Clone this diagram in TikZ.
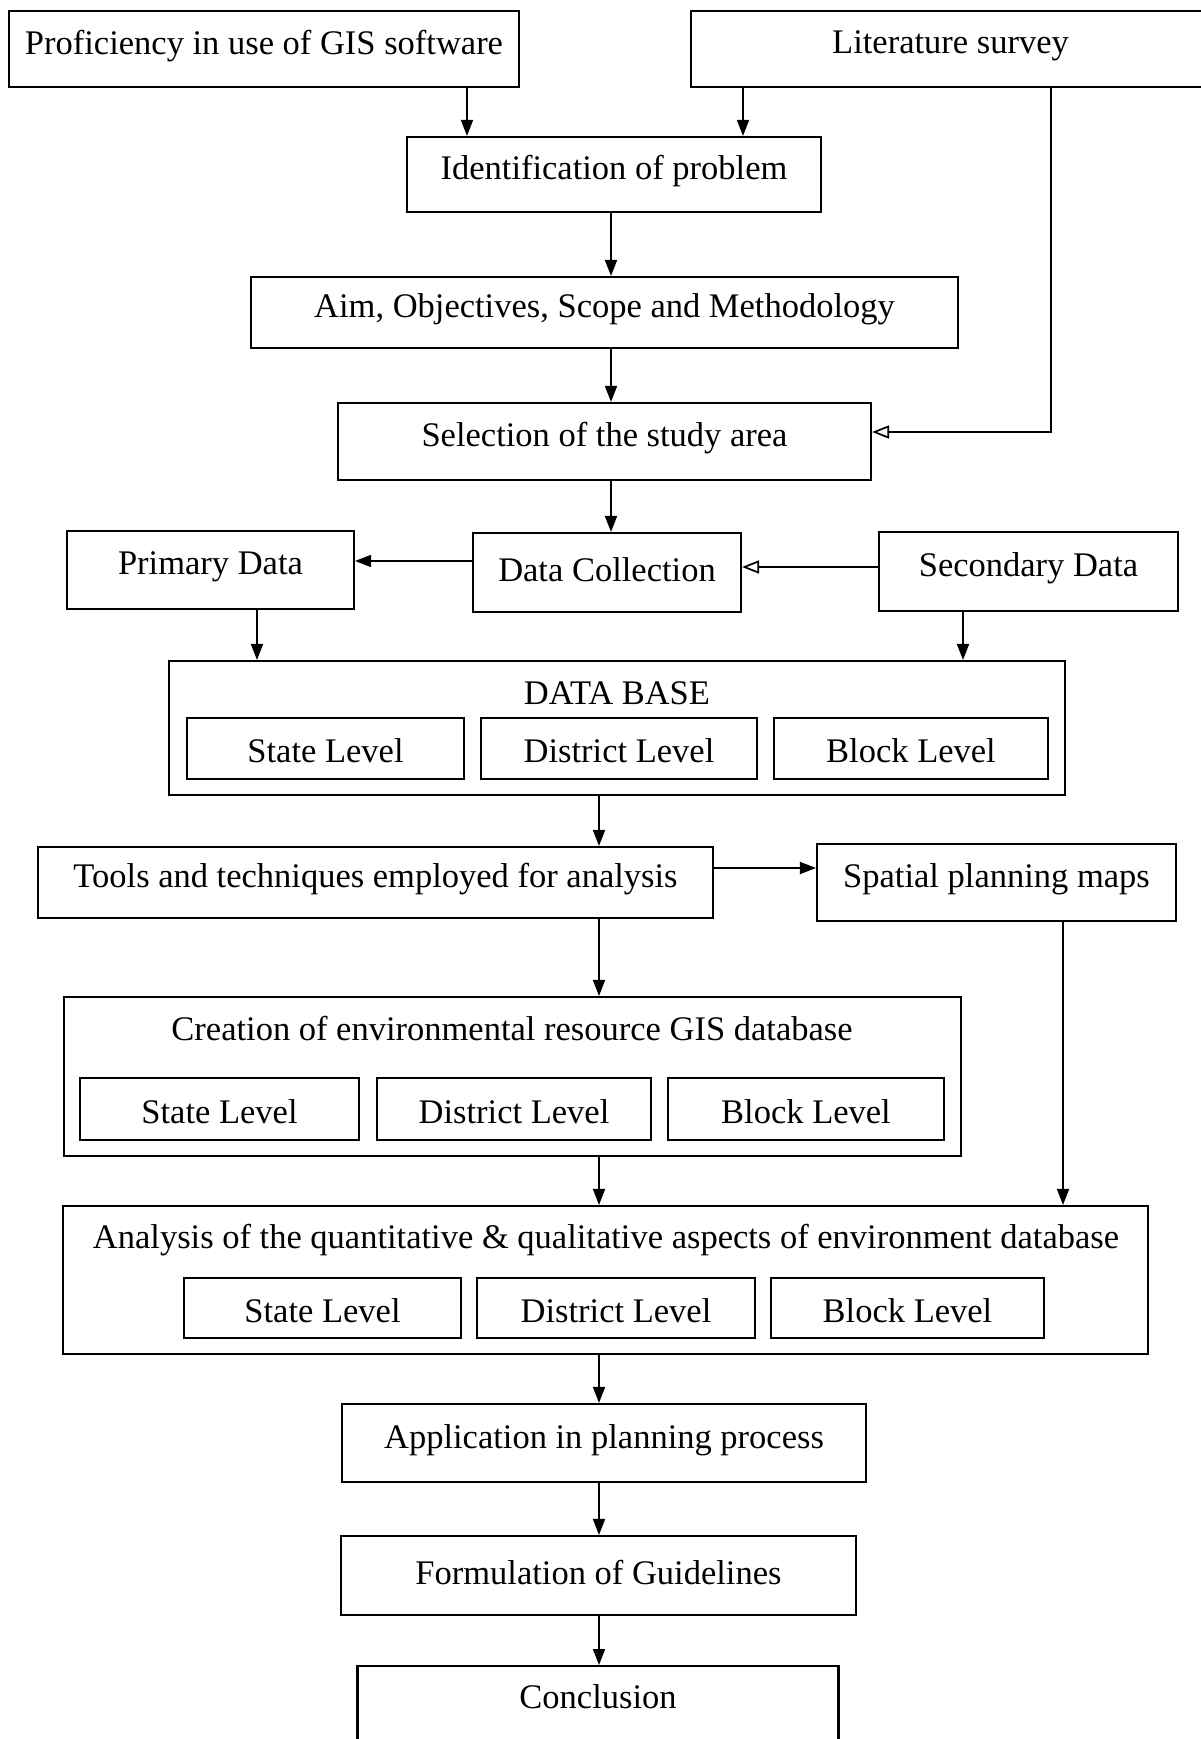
\documentclass[tikz,border=0pt]{standalone}
\usepackage{fontspec}
\setmainfont{Liberation Serif}
\usetikzlibrary{arrows.meta,calc}
\tikzset{
  box/.style={draw, line width=2.1pt, inner sep=0pt, anchor=center,
    font=\fontsize{34.5}{40}\selectfont},
  ttl/.style={inner sep=0pt, anchor=center, font=\fontsize{34.5}{40}\selectfont},
  arr/.style={line width=1.7pt, -{Triangle[length=16pt,width=12pt]}},
  oarr/.style={line width=1.7pt, -{Triangle[open,length=17pt,width=13pt,line width=1.7pt]}}
}
% box by its left, top, right and bottom edges; the label sits a little high
\newcommand{\bx}[6]{\node[box, minimum width={#4-#2}, minimum height={#5-#3}]
  (#1) at ({(#2+#4)/2},{(#3+#5)/2}) {\raisebox{3pt}[\height][\depth]{#6}};}
% level box inside a group; its label sits a little low
\newcommand{\lvl}[6]{\node[box, minimum width={#4-#2}, minimum height={#5-#3}]
  (#1) at ({(#2+#4)/2},{(#3+#5)/2}) {\raisebox{-2.5pt}[\height][\depth]{#6}};}
\begin{document}
\begin{tikzpicture}[x=1pt,y=-1pt]
\useasboundingbox (0,0) rectangle (1201,1739);
\fill[white] (0,0) rectangle (1201,1739);
\clip (0,0) rectangle (1201,1739);

% top row
\bx{prof}{9}{11}{519}{87}{Proficiency in use of GIS software}
\bx{lit}{691}{11}{1210}{87}{Literature survey}
% main chain
\bx{ident}{407}{137}{821}{212}{Identification of problem}
\bx{aim}{251}{277}{958}{348}{Aim, Objectives, Scope and Methodology}
\bx{sel}{338}{403}{871}{480}{Selection of the study area}
% data sources
\bx{prim}{67}{531}{354}{609}{Primary Data}
\bx{dc}{473}{533}{741}{612}{Data Collection}
\bx{sec}{879}{532}{1178}{611}{Secondary Data}
% data base group
\bx{db}{169}{661}{1065}{795}{}
\node[ttl] (dbt) at (617,693) {DATA BASE};
\lvl{dbs}{187}{718}{464}{779}{State Level}
\lvl{dbd}{481}{718}{757}{779}{District Level}
\lvl{dbb}{774}{718}{1048}{779}{Block Level}
% analysis tools
\bx{tools}{38}{847}{713}{918}{Tools and techniques employed for analysis}
\bx{spat}{817}{844}{1176}{921}{Spatial planning maps}
% GIS database group
\bx{cre}{64}{997}{961}{1156}{}
\node[ttl] (cret) at (512,1029) {Creation of environmental resource GIS database};
\lvl{cres}{80}{1078}{359}{1140}{State Level}
\lvl{cred}{377}{1078}{651}{1140}{District Level}
\lvl{creb}{668}{1078}{944}{1140}{Block Level}
% analysis group
\bx{ana}{63}{1206}{1148}{1354}{}
\node[ttl] (anat) at (606,1240) {Analysis of the quantitative \& qualitative aspects of environment database};
\lvl{anas}{184}{1278}{461}{1338}{State Level}
\lvl{anad}{477}{1278}{755}{1338}{District Level}
\lvl{anab}{771}{1278}{1044}{1338}{Block Level}
% final steps
\bx{app}{342}{1404}{866}{1482}{Application in planning process}
\bx{form}{341}{1536}{856}{1615}{Formulation of Guidelines}
\node[box, minimum width=481, minimum height=130, anchor=north]
  (conc) at (598,1665) {};
\node[ttl] (conct) at (598,1697) {Conclusion};

% connector lanes
\coordinate (xa) at (467,0);
\coordinate (xb) at (743,0);
\coordinate (xc) at (1051,0);
\coordinate (xm) at (611,0);
\coordinate (xp) at (257,0);
\coordinate (xs) at (963,0);
\coordinate (xd) at (599,0);
\coordinate (xr) at (1063,0);
\coordinate (ya) at (0,432);
\coordinate (yb) at (0,561);
\coordinate (yc) at (0,567);
\coordinate (yd) at (0,868);

\draw[arr] (prof.south -| xa) -- (ident.north -| xa);
\draw[arr] (lit.south -| xb) -- (ident.north -| xb);
\draw[oarr] (lit.south -| xc) |- (sel.east |- ya);
\draw[arr] (ident.south -| xm) -- (aim.north -| xm);
\draw[arr] (aim.south -| xm) -- (sel.north -| xm);
\draw[arr] (sel.south -| xm) -- (dc.north -| xm);
\draw[arr] (dc.west |- yb) -- (prim.east |- yb);
\draw[oarr] (sec.west |- yc) -- (dc.east |- yc);
\draw[arr] (prim.south -| xp) -- (db.north -| xp);
\draw[arr] (sec.south -| xs) -- (db.north -| xs);
\draw[arr] (db.south -| xd) -- (tools.north -| xd);
\draw[arr] (tools.east |- yd) -- (spat.west |- yd);
\draw[arr] (tools.south -| xd) -- (cre.north -| xd);
\draw[arr] (cre.south -| xd) -- (ana.north -| xd);
\draw[arr] (spat.south -| xr) -- (ana.north -| xr);
\draw[arr] (ana.south -| xd) -- (app.north -| xd);
\draw[arr] (app.south -| xd) -- (form.north -| xd);
\draw[arr] (form.south -| xd) -- (conc.north -| xd);
\end{tikzpicture}
\end{document}
